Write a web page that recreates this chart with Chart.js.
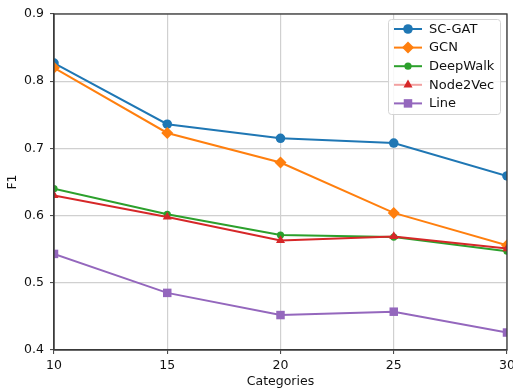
<!DOCTYPE html>
<html>
<head>
<meta charset="utf-8">
<script src="https://cdn.jsdelivr.net/npm/chart.js@4/dist/chart.umd.min.js"></script>
<style>
html,body{margin:0;padding:0;background:#fff;overflow:hidden;}
#wrap{width:513px;height:392px;position:relative;}
</style>
</head>
<body>
<div id="wrap"><canvas id="c" width="513" height="392"></canvas></div>
<script>
const categories = [10, 15, 20, 25, 30];
const seriesNames = ['SC-GAT', 'GCN', 'DeepWalk', 'Node2Vec', 'Line'];
const scGat    = [0.827, 0.736, 0.715, 0.708, 0.659];
const gcn      = [0.820, 0.723, 0.679, 0.604, 0.556];
const deepWalk = [0.640, 0.602, 0.571, 0.568, 0.547];
const node2Vec = [0.630, 0.598, 0.563, 0.569, 0.551];
const line     = [0.543, 0.485, 0.452, 0.457, 0.426];
const yTicks   = [0.4, 0.5, 0.6, 0.7, 0.8, 0.9];

const colors = ['#1f77b4', '#ff7f0e', '#2ca02c', '#d62728', '#9467bd'];
const legendLineColors = ['#1f77b4', '#ff7f0e', '#2ca02c', '#f2a0a0', '#9467bd'];
const markers = ['circle', 'rectRot', 'circle', 'triangle', 'rect'];
const radii = [4.8, 6, 3.6, 5.2, 6];
const values = [scGat, gcn, deepWalk, node2Vec, line];

const FONT = 'DejaVu Sans';

const datasets = values.map((v, i) => ({
  label: seriesNames[i],
  data: categories.map((c, j) => ({x: c, y: v[j]})),
  borderColor: colors[i],
  backgroundColor: colors[i],
  borderWidth: 2,
  pointStyle: markers[i],
  pointRadius: radii[i],
  pointBorderWidth: 0,
  pointBackgroundColor: colors[i],
  tension: 0,
  clip: 0,
  order: seriesNames.length - 1 - i
}));

const clipPlugin = {
  id: 'areaClip',
  beforeDatasetsDraw(chart) {
    const {ctx, chartArea: a} = chart;
    ctx.save();
    ctx.beginPath();
    ctx.rect(a.left, a.top, a.right - a.left, a.bottom - a.top);
    ctx.clip();
  },
  afterDatasetsDraw(chart) {
    chart.ctx.restore();
  }
};

const framePlugin = {
  id: 'frame',
  afterDatasetsDraw(chart) {
    const {ctx, chartArea: a} = chart;
    ctx.save();
    ctx.strokeStyle = '#3a3a3a';
    ctx.lineWidth = 1.3;
    ctx.strokeRect(a.left, a.top, a.right - a.left, a.bottom - a.top);
    ctx.restore();
  }
};

const legendPlugin = {
  id: 'mplLegend',
  afterDraw(chart) {
    const ctx = chart.ctx;
    const bx = 388.5, by = 19.5, bw = 112, bh = 95;
    ctx.save();
    ctx.beginPath();
    if (ctx.roundRect) ctx.roundRect(bx, by, bw, bh, 3); else ctx.rect(bx, by, bw, bh);
    ctx.fillStyle = 'rgba(255,255,255,0.85)';
    ctx.fill();
    ctx.strokeStyle = '#d4d4d4';
    ctx.lineWidth = 1;
    ctx.stroke();
    const y0 = 29, dy = 18.6;
    ctx.font = '13px "' + FONT + '"';
    ctx.textBaseline = 'middle';
    ctx.textAlign = 'left';
    seriesNames.forEach((name, i) => {
      const y = y0 + i * dy;
      ctx.beginPath();
      ctx.moveTo(394, y);
      ctx.lineTo(422, y);
      ctx.strokeStyle = legendLineColors[i];
      ctx.lineWidth = 2;
      ctx.stroke();
      ctx.fillStyle = colors[i];
      ctx.strokeStyle = colors[i];
      Chart.helpers.drawPoint(ctx, {pointStyle: markers[i], radius: radii[i], rotation: 0, borderWidth: 0}, 408, y);
      ctx.fillStyle = '#111';
      ctx.fillText(name, 429, y + 0.5);
    });
    ctx.restore();
  }
};

new Chart(document.getElementById('c'), {
  type: 'line',
  data: { datasets },
  options: {
    responsive: false,
    animation: false,
    devicePixelRatio: 1,
    layout: { padding: { left: 0, right: 6, top: 14, bottom: 0 } },
    plugins: { legend: { display: false }, tooltip: { enabled: false } },
    scales: {
      x: {
        type: 'linear',
        min: 10, max: 30,
        afterBuildTicks(scale) { scale.ticks = categories.map(v => ({value: v})); },
        afterFit(scale) { scale.height = 42; scale.paddingLeft = 0; scale.paddingRight = 0; },
        grid: { color: '#d0d0d0', lineWidth: 1.2, tickLength: 4, tickColor: '#3a3a3a', tickWidth: 1 },
        border: { display: true, color: '#3a3a3a', width: 1.3 },
        ticks: { color: '#111', padding: 4, maxRotation: 0, autoSkip: false,
                 font: { family: FONT, size: 12.5 } },
        title: { display: true, text: 'Categories', color: '#111',
                 padding: { top: 0, bottom: 3 }, font: { family: FONT, size: 12.5 } }
      },
      y: {
        type: 'linear',
        min: 0.4, max: 0.9,
        afterBuildTicks(scale) { scale.ticks = yTicks.map(v => ({value: v})); },
        afterFit(scale) { scale.width = 54; scale.paddingTop = 0; scale.paddingBottom = 0; },
        grid: { color: '#d0d0d0', lineWidth: 1.2, tickLength: 4, tickColor: '#3a3a3a', tickWidth: 1 },
        border: { display: true, color: '#3a3a3a', width: 1.3 },
        ticks: { color: '#111', padding: 6, autoSkip: false,
                 font: { family: FONT, size: 12.5 },
                 callback: v => (Math.round(v * 10) / 10).toFixed(1) },
        title: { display: true, text: 'F1', color: '#111',
                 padding: { top: 5, bottom: 0 }, font: { family: FONT, size: 12.5 } }
      }
    }
  },
  plugins: [clipPlugin, framePlugin, legendPlugin]
});
</script>
</body>
</html>
